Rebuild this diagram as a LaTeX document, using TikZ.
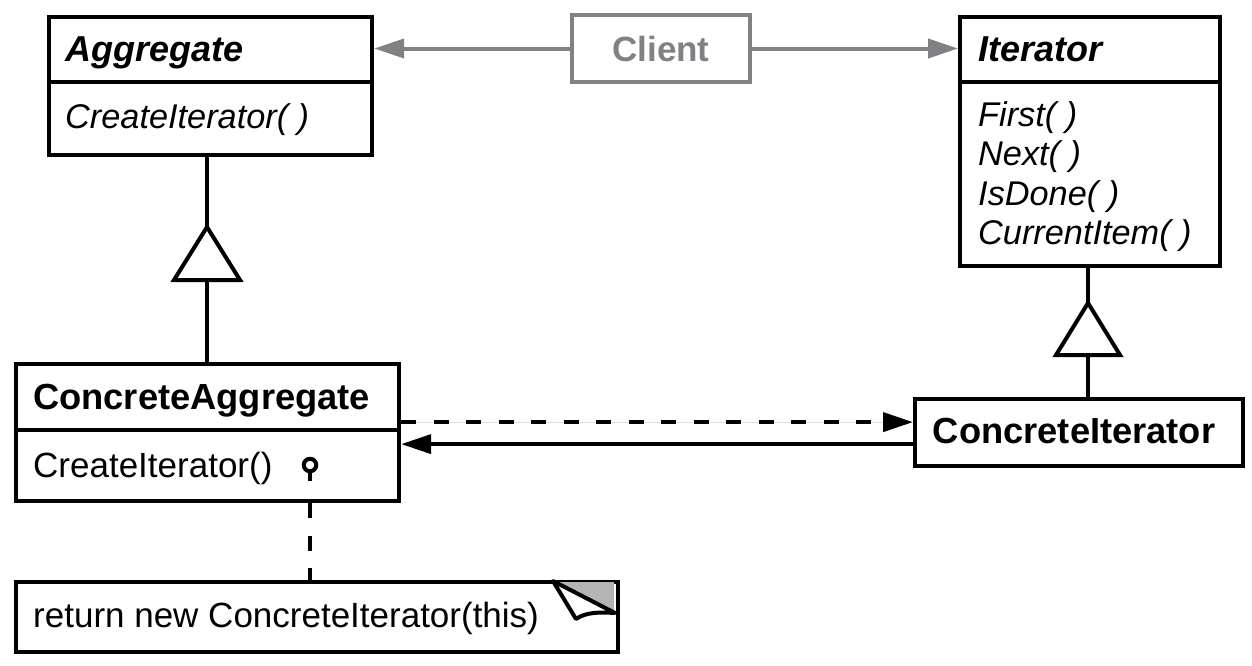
\documentclass[tikz,border=0pt]{standalone}
\usepackage{fontspec}
\setmainfont{Liberation Sans}
\usetikzlibrary{arrows.meta}
\definecolor{clientgray}{RGB}{128,129,132}
\definecolor{foldgray}{RGB}{180,180,182}
\newcommand{\boldsz}{\fontsize{36.3}{42}\selectfont}
\newcommand{\itsz}{\fontsize{34.3}{42}\selectfont}
\newcommand{\bisz}{\fontsize{36}{42}\selectfont}
\begin{document}
\begin{tikzpicture}[x=1pt,y=-1pt,
  every node/.style={font=\fontsize{35}{42}\selectfont, inner sep=0pt},
  classbox/.style={draw, line width=4.2pt, rectangle, anchor=north west},
  label/.style={anchor=base west},
  rule/.style={line width=4.2pt},
  link/.style={line width=4pt},
  tip/.style={-{Triangle[length=30pt,width=19pt]}},
  dashline/.style={dash pattern=on 15pt off 17.5pt}
]
\useasboundingbox (0,0) rectangle (1252,665);

% abstract classes
\node[classbox, minimum width=323, minimum height=138] (agg) at (47,15) {};
\draw[rule] (agg.west |- 0,82) -- (agg.east |- 0,82);
\node[label, font=\bisz] (aggT) at (65,61.5) {\textbf{\textit{Aggregate}}};
\node[label, font=\itsz] (aggM) at (65,128.5) {\textit{CreateIterator( )}};

\node[classbox, minimum width=260, minimum height=249] (iter) at (958,15) {};
\draw[rule] (iter.west |- 0,82) -- (iter.east |- 0,82);
\node[label, font=\bisz] (iterT) at (978,61.5) {\textbf{\textit{Iterator}}};
\node[label, font=\itsz] (iterM1) at (978,126) {\textit{First( )}};
\node[label, font=\itsz] (iterM2) at (978,165.5) {\textit{Next( )}};
\node[label, font=\itsz] (iterM3) at (978,205) {\textit{IsDone( )}};
\node[label, font=\itsz] (iterM4) at (978,244.5) {\textit{CurrentItem( )}};

% client
\node[draw=clientgray, line width=4pt, minimum width=178, minimum height=67,
      text=clientgray] (client) at (661,48.5) {\textbf{Client}};
\draw[link, tip, draw=clientgray, fill=clientgray] (client.west) -- (client -| agg.east);
\draw[link, tip, draw=clientgray, fill=clientgray] (client.east) -- (client -| iter.west);

% concrete classes
\node[classbox, minimum width=383, minimum height=137] (cagg) at (14,362) {};
\draw[rule] (cagg.west |- 0,430) -- (cagg.east |- 0,430);
\node[label, font=\boldsz] (caggT) at (33,409.5) {\textbf{ConcreteAggregate}};
\node[label] (caggM) at (33,477) {CreateIterator()};

\node[classbox, minimum width=328, minimum height=67] (citer) at (913,397) {};
\node[anchor=base, font=\boldsz] (citerT) at ([xshift=-5pt]citer.center |- 0,443.5) {\textbf{ConcreteIterator}};

% generalization: Aggregate <- ConcreteAggregate
\coordinate (g1top) at (207,227);
\coordinate (g1base) at (207,280);
\draw[link] (agg.south -| g1top) -- (g1top);
\draw[link, fill=white, line join=miter] (g1top) -- (174,280) -- (240,280) -- cycle;
\draw[link] (g1base) -- (cagg.north -| g1base);

% generalization: Iterator <- ConcreteIterator
\coordinate (g2top) at (1088,303);
\coordinate (g2base) at (1088,355);
\draw[link] (iter.south -| g2top) -- (g2top);
\draw[link, fill=white, line join=miter] (g2top) -- (1056,355) -- (1120,355) -- cycle;
\draw[link] (g2base) -- (citer.north -| g2base);

% dependency and association
\draw[link, dashline, tip, fill=black] ([yshift=10.5pt]cagg.east) -- ([yshift=10.5pt]cagg.east -| citer.west);
\draw[link, tip, fill=black] ([yshift=-11.5pt]citer.west) -- ([yshift=-11.5pt]citer.west -| cagg.east);

% note
\node[classbox, minimum width=602, minimum height=70] (note) at (14,580) {};
\node[label] (noteT) at (33,627.5) {return new ConcreteIterator(this)};
\fill[foldgray] (552,582) -- (614,582) -- (614,613) -- cycle;
\draw[line width=4pt, line join=round, fill=white]
  (553,581) -- (576,619) .. controls (586,612) and (600,612) .. (615,613) -- cycle;

% annotation link
\node[draw, circle, line width=4pt, minimum size=12.5, fill=white] (dot) at (310,465) {};
\draw[link] (dot.south) -- ++(0,8);
\draw[link, dashline] (cagg.south -| dot) -- (note.north -| dot);
\end{tikzpicture}
\end{document}
